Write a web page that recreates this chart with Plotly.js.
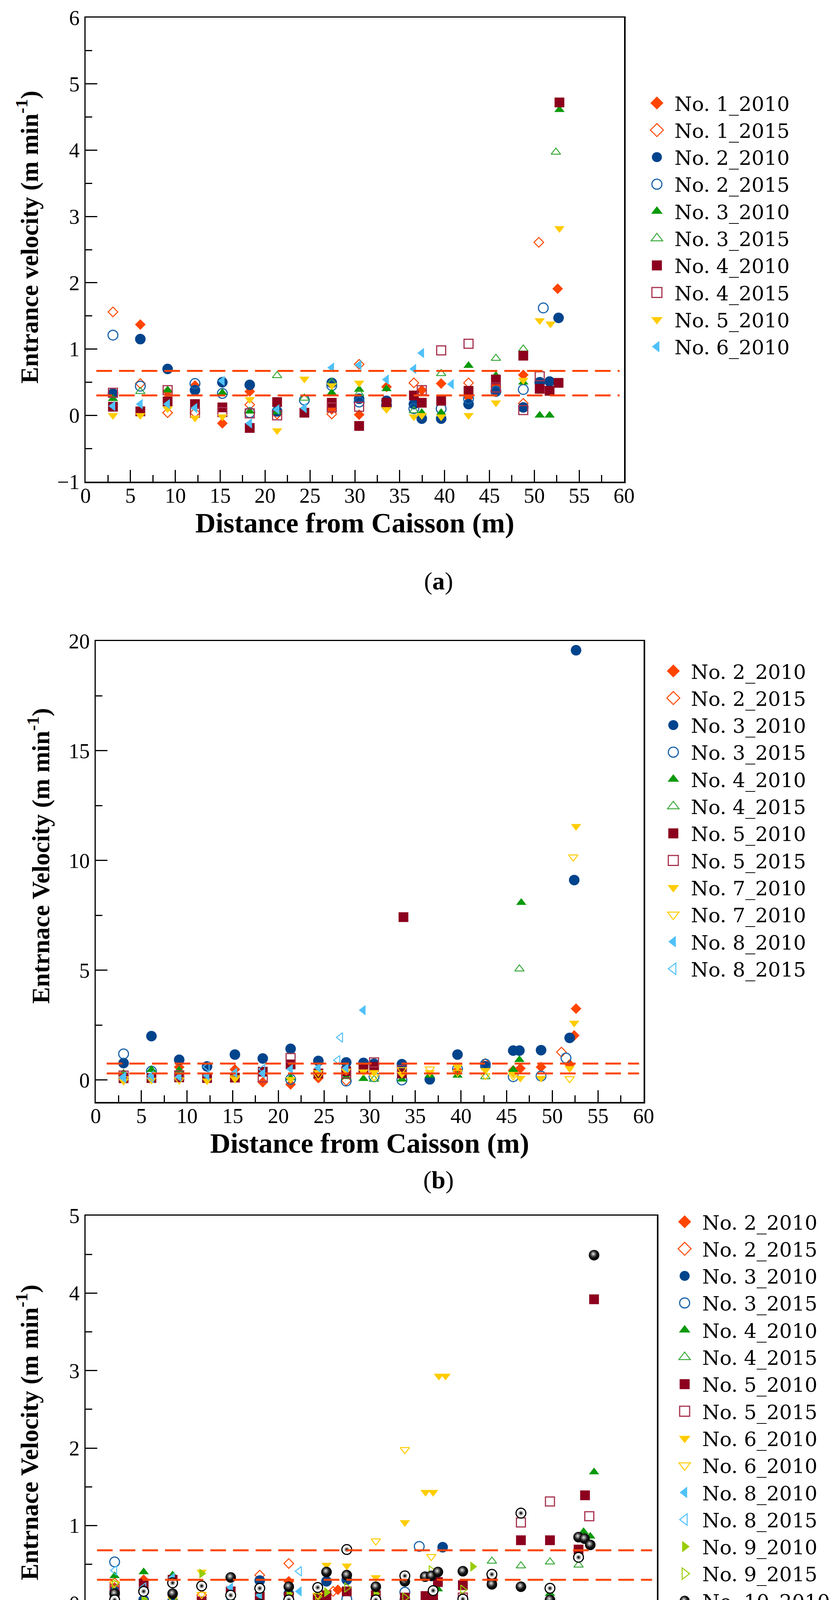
<!DOCTYPE html>
<html><head><meta charset="utf-8">
<script src="https://cdn.plot.ly/plotly-3.0.1.min.js"></script>
<style>html,body{margin:0;padding:0;background:#fff;overflow:hidden}#chart{width:2147px;height:4566px}</style>
</head><body><div id="chart"></div>
<script>
// ================= Panel (a) data =================
const a_n1_2010_x = [3.05, 6.1, 9.14, 12.19, 15.24, 18.29, 27.43, 30.48, 33.53, 37.46, 39.62, 42.67, 45.72, 48.77, 52.6];
const a_n1_2010_y = [0.30, 1.37, 0.36, 0.45, -0.12, 0.36, 0.09, 0.01, 0.43, 0.38, 0.48, 0.27, 0.44, 0.61, 1.91];
const a_n1_2015_x = [3.05, 6.1, 9.14, 12.19, 18.29, 21.34, 27.43, 30.48, 36.58, 42.67, 48.77, 50.5];
const a_n1_2015_y = [1.56, 0.48, 0.04, 0.04, 0.16, 0.02, 0.02, 0.77, 0.49, 0.49, 0.18, 2.61];
const a_n2_2010_x = [3.05, 6.1, 9.14, 12.19, 15.24, 18.29, 21.34, 27.43, 30.48, 33.53, 36.58, 37.46, 39.62, 42.67, 45.72, 48.77, 50.6, 51.7, 52.7];
const a_n2_2010_y = [0.33, 1.15, 0.70, 0.38, 0.50, 0.46, 0.06, 0.49, 0.25, 0.22, 0.17, -0.05, -0.05, 0.17, 0.37, 0.12, 0.50, 0.51, 1.47];
const a_n2_2015_x = [3.05, 6.1, 12.19, 15.24, 18.29, 24.38, 27.43, 30.48, 33.53, 36.58, 39.62, 42.67, 45.72, 48.77, 51.0];
const a_n2_2015_y = [1.21, 0.44, 0.48, 0.33, 0.04, 0.23, 0.45, 0.20, 0.15, 0.10, 0.10, 0.25, 0.36, 0.39, 1.62];
const a_n3_2010_x = [3.05, 9.14, 15.24, 18.29, 21.34, 27.43, 30.48, 33.53, 37.46, 39.62, 42.67, 45.72, 48.77, 50.6, 51.7, 52.8];
const a_n3_2010_y = [0.25, 0.38, 0.34, 0.06, 0.05, 0.34, 0.39, 0.40, 0.04, 0.04, 0.75, 0.60, 0.50, 0.0, 0.0, 4.61];
const a_n3_2015_x = [6.1, 21.34, 24.38, 27.43, 30.48, 36.58, 39.62, 45.72, 48.77, 52.4];
const a_n3_2015_y = [0.36, 0.60, 0.26, 0.50, 0.33, 0.07, 0.63, 0.86, 1.00, 3.97];
const a_n4_2010_x = [3.05, 6.1, 9.14, 12.19, 15.24, 18.29, 21.34, 24.38, 27.43, 30.48, 33.53, 36.58, 37.46, 39.62, 42.67, 45.72, 48.77, 50.6, 51.7, 52.7, 52.8];
const a_n4_2010_y = [0.13, 0.06, 0.21, 0.17, 0.12, -0.19, 0.20, 0.04, 0.19, -0.16, 0.19, 0.30, 0.19, 0.22, 0.37, 0.54, 0.90, 0.40, 0.37, 0.49, 4.72];
const a_n4_2015_x = [3.05, 9.14, 12.19, 15.24, 18.29, 21.34, 27.43, 30.48, 37.46, 39.62, 42.67, 45.72, 48.77, 50.6];
const a_n4_2015_y = [0.34, 0.38, 0.04, 0.05, 0.03, 0.0, 0.12, 0.13, 0.38, 0.98, 1.08, 0.42, 0.08, 0.59];
const a_n5_2010_x = [3.05, 6.1, 9.14, 12.19, 15.24, 18.29, 21.34, 24.38, 27.43, 30.48, 33.53, 36.58, 37.46, 39.62, 42.67, 45.72, 48.77, 50.6, 51.8, 52.8];
const a_n5_2010_y = [0.0, 0.0, 0.10, -0.04, -0.02, 0.24, -0.23, 0.55, 0.45, 0.49, 0.09, -0.02, 0.0, -0.02, 0.0, 0.19, 0.53, 1.43, 1.38, 2.82];
const a_n6_2010_x = [3.05, 6.1, 9.14, 12.19, 15.24, 18.29, 21.34, 24.38, 27.43, 30.48, 33.53, 36.58, 37.46, 40.77];
const a_n6_2010_y = [0.14, 0.17, 0.17, 0.11, 0.52, -0.12, 0.09, 0.11, 0.72, 0.76, 0.54, 0.70, 0.94, 0.47];
const a_limits = [0.67, 0.30];

// ================= Panel (b) data =================
const b_n2_2010_x = [3.05, 9.14, 15.24, 18.29, 21.34, 24.38, 39.62, 45.72, 46.5, 48.77, 51.9, 52.4, 52.6];
const b_n2_2010_y = [0.25, 0.59, 0.48, -0.10, -0.20, 0.09, 0.45, 0.44, 0.53, 0.59, 0.71, 2.03, 3.25];
const b_n2_2015_x = [3.05, 27.43, 42.67, 51.0];
const b_n2_2015_y = [0.20, -0.03, 0.75, 1.27];
const b_n3_2010_x = [3.05, 6.1, 9.14, 12.19, 15.24, 18.29, 21.34, 24.38, 27.43, 29.32, 30.48, 33.53, 36.58, 39.62, 42.67, 45.72, 46.4, 48.77, 51.9, 52.4, 52.6];
const b_n3_2010_y = [0.77, 2.00, 0.92, 0.62, 1.16, 0.98, 1.42, 0.87, 0.80, 0.78, 0.74, 0.72, 0.03, 1.16, 0.63, 1.34, 1.34, 1.36, 1.92, 9.11, 19.58];
const b_n3_2015_x = [3.05, 6.1, 21.34, 27.43, 30.48, 33.53, 39.62, 42.67, 45.72, 48.77, 51.5];
const b_n3_2015_y = [1.19, 0.40, 0.03, -0.05, 0.15, 0.0, 0.50, 0.72, 0.15, 0.18, 1.00];
const b_n4_2010_x = [3.05, 6.1, 9.14, 21.34, 27.43, 29.32, 33.53, 36.58, 39.62, 45.72, 46.4, 46.6];
const b_n4_2010_y = [0.30, 0.47, 0.45, 0.09, 0.15, 0.06, 0.03, 0.21, 0.21, 0.47, 0.92, 8.08];
const b_n4_2015_x = [3.05, 30.48, 42.67, 46.4];
const b_n4_2015_y = [0.20, 0.03, 0.15, 5.06];
const b_n5_2010_x = [3.05, 6.1, 9.14, 12.19, 15.24, 18.29, 21.34, 24.38, 27.43, 29.32, 30.48, 33.53, 33.7];
const b_n5_2010_y = [0.08, 0.09, 0.12, 0.09, 0.11, 0.38, 0.71, 0.30, 0.40, 0.55, 0.60, 0.30, 7.42];
const b_n5_2015_x = [3.05, 9.14, 18.29, 21.34, 27.43, 30.48, 33.53];
const b_n5_2015_y = [0.20, 0.21, 0.12, 1.00, 0.30, 0.80, 0.45];
const b_n7_2010_x = [3.05, 6.1, 12.19, 15.24, 21.34, 24.38, 27.43, 29.32, 30.48, 33.53, 36.58, 39.62, 42.67, 45.72, 46.5, 48.77, 51.9, 52.4, 52.6];
const b_n7_2010_y = [-0.05, 0.0, -0.03, 0.05, 0.03, 0.35, 0.41, 0.38, 0.35, 0.27, 0.35, 0.60, 0.44, 0.27, 0.09, 0.09, 0.53, 2.60, 11.56];
const b_n7_2010b_x = [3.05, 9.14, 15.24, 24.38, 30.48, 33.53, 36.58, 39.62, 42.67, 45.72, 51.9, 52.3];
const b_n7_2010b_y = [0.05, 0.0, 0.10, 0.20, 0.15, 0.47, 0.50, 0.35, 0.20, 0.18, 0.06, 10.16];
const b_n8_2010_x = [3.05, 6.1, 9.14, 12.19, 15.24, 18.29, 21.34, 24.38, 27.43, 29.3];
const b_n8_2010_y = [0.15, 0.20, 0.15, 0.20, 0.33, 0.30, 0.50, 0.56, 0.54, 3.18];
const b_n8_2015_x = [3.05, 6.1, 12.19, 18.29, 26.5, 26.8];
const b_n8_2015_y = [0.10, 0.10, 0.60, 0.50, 0.90, 1.94];
const b_limits = [0.75, 0.30];

// ================= Panel (c) data =================
const c_n2_2010_x = [3.05, 6.1, 9.14, 15.24, 21.34, 26.5];
const c_n2_2010_y = [0.20, 0.30, 0.04, 0.12, 0.28, 0.17];
const c_n2_2015_x = [3.05, 12.19, 18.29, 21.34, 26.0];
const c_n2_2015_y = [0.26, 0.10, 0.36, 0.51, 0.15];
const c_n3_2010_x = [3.05, 6.1, 9.14, 12.19, 15.24, 18.29, 21.34, 25.3, 27.43, 33.53, 37.5];
const c_n3_2010_y = [0.15, 0.04, 0.02, -0.06, 0.0, 0.29, 0.12, 0.28, 0.30, 0.04, 0.72];
const c_n3_2015_x = [3.05, 9.14, 27.43, 33.53, 35.04];
const c_n3_2015_y = [0.53, 0.02, 0.05, 0.14, 0.73];
const c_n4_2010_x = [3.05, 6.1, 9.14, 21.34, 24.38, 30.48, 35.7, 36.5, 37.0, 48.77, 52.3, 53.0, 53.4];
const c_n4_2010_y = [0.35, 0.40, 0.36, 0.02, 0.03, 0.0, 0.0, 0.0, 0.18, 0.12, 0.92, 0.86, 1.69];
const c_n4_2015_x = [15.24, 42.67, 45.72, 48.77, 51.77];
const c_n4_2015_y = [0.02, 0.54, 0.48, 0.53, 0.49];
const c_n5_2010_x = [3.05, 6.1, 9.14, 12.19, 15.24, 18.29, 21.34, 24.38, 25.3, 27.43, 30.48, 33.53, 35.7, 36.5, 37.0, 39.62, 42.67, 45.72, 48.77, 51.77, 52.45, 53.4];
const c_n5_2010_y = [0.11, 0.25, 0.30, 0.02, 0.15, 0.08, 0.08, 0.06, 0.10, 0.15, 0.10, 0.07, 0.09, 0.08, 0.27, 0.23, 0.27, 0.81, 0.81, 0.69, 1.39, 3.92];
const c_n5_2015_x = [3.05, 39.62, 45.72, 48.77, 52.9];
const c_n5_2015_y = [0.18, 0.07, 1.04, 1.31, 1.12];
const c_n6_2010_x = [3.05, 12.19, 15.24, 25.3, 27.43, 30.48, 33.53, 35.7, 36.5, 37.1, 37.8];
const c_n6_2010_y = [-0.02, 0.40, -0.19, 0.49, 0.48, 0.33, 1.04, 1.43, 1.43, 2.93, 2.93];
const c_n6_2010b_x = [3.05, 9.14, 12.19, 24.38, 30.48, 33.53, 36.3];
const c_n6_2010b_y = [0.25, 0.05, 0.11, 0.10, 0.80, 1.98, 0.60];
const c_n8_2010_x = [9.14, 15.24, 18.29, 22.45];
const c_n8_2010_y = [0.33, 0.20, 0.10, 0.15];
const c_n8_2015_x = [3.05, 6.1, 15.24, 22.45];
const c_n8_2015_y = [0.42, 0.20, 0.05, 0.41];
const c_n9_2010_x = [6.1, 12.19, 18.29, 21.34, 25.3, 30.48, 40.65];
const c_n9_2010_y = [0.05, 0.38, -0.10, 0.12, 0.14, 0.12, 0.47];
const c_n9_2015_x = [3.05, 9.14, 24.38, 27.43, 33.53, 36.3, 39.62];
const c_n9_2015_y = [0.25, 0.05, 0.08, 0.20, 0.07, 0.42, 0.17];
const c_n10_2010_x = [3.05, 6.1, 9.14, 15.24, 18.29, 21.34, 25.3, 27.43, 30.48, 33.53, 35.66, 36.3, 37.0, 39.62, 42.67, 45.72, 48.77, 51.77, 52.4, 53.0, 53.4];
const c_n10_2010_y = [0.12, -0.05, 0.12, 0.33, -0.01, 0.21, 0.40, 0.36, 0.21, 0.28, 0.34, 0.35, 0.40, 0.41, 0.24, 0.21, 0.04, 0.85, 0.83, 0.75, 4.49];
const c_n10_2015_x = [3.05, 6.1, 9.14, 12.19, 15.24, 18.29, 21.34, 24.38, 27.43, 30.48, 33.53, 36.5, 39.62, 42.67, 45.72, 48.77, 51.77];
const c_n10_2015_y = [0.04, 0.15, 0.26, 0.22, 0.10, 0.19, 0.04, 0.20, 0.69, 0.04, 0.35, 0.16, 0.05, 0.37, 1.16, 0.19, 0.59];
const c_limits = [0.68, 0.30];

const x_range = [0, 60];
const a_y_range = [-1, 6];
const b_y_range = [-1, 20];
const c_y_range = [-1, 5];
const limit_x = [1.2, 59.5];

// ================= styles =================
const ORANGE = '#FF4500', NAVY = '#00448C', BLUE_O = '#1a64aa', GREEN = '#0A9A0A', GREEN_O = '#3CAA3C',
      DRED = '#8C001E', DRED_O = '#A8344F', YEL = '#FFCC00', LBLUE = '#4FC1F9', YG = '#99CC00';
const ST = {
  dia:   {symbol:'diamond', color:ORANGE, size:21},
  diaO:  {symbol:'diamond-open', color:ORANGE, size:19, line:{color:ORANGE, width:2.5}},
  cir:   {symbol:'circle', color:NAVY, size:27},
  cirO:  {symbol:'circle-open', color:BLUE_O, size:25, line:{color:BLUE_O, width:3}},
  tup:   {symbol:'triangle-up', color:GREEN, size:23},
  tupO:  {symbol:'triangle-up-open', color:GREEN_O, size:21, line:{color:GREEN_O, width:2.5}},
  sq:    {symbol:'square', color:DRED, size:25},
  sqO:   {symbol:'square-open', color:DRED_O, size:23, line:{color:DRED_O, width:3}},
  tdn:   {symbol:'triangle-down', color:YEL, size:23},
  tdnO:  {symbol:'triangle-down-open', color:YEL, size:21, line:{color:YEL, width:2.5}},
  tlf:   {symbol:'triangle-left', color:LBLUE, size:23},
  tlfO:  {symbol:'triangle-left-open', color:LBLUE, size:21, line:{color:LBLUE, width:2.5}},
  trt:   {symbol:'triangle-right', color:YG, size:23},
  trtO:  {symbol:'triangle-right-open', color:YG, size:21, line:{color:YG, width:2.5}},
  sph:   {symbol:'circle', color:'#000000', size:27, line:{width:0}, gradient:{type:'radial', color:'#f4f4f4'}},
  dot:   {symbol:'circle', color:'#ffffff', size:25, line:{color:'#000000', width:3}, gradient:{type:'radial', color:'#000000'}}
};

function pts(name, x, y, st, ax, lg) {
  const m = Object.assign({}, st);
  if (!m.line) m.line = {width:0};
  return {type:'scatter', mode:'markers', name:name, x:x, y:y, marker:m,
          xaxis:'x'+ax, yaxis:'y'+ax, legend:lg, cliponaxis:false, hoverinfo:'skip'};
}
function lim(vals, ax) {
  return vals.map(v => ({type:'scatter', mode:'lines', x:limit_x, y:[v, v], showlegend:false,
    line:{color:ORANGE, width:5, dash:'40px,18px'}, xaxis:'x'+ax, yaxis:'y'+ax, hoverinfo:'skip'}));
}

const traces = [
  pts('No. 1_2010', a_n1_2010_x, a_n1_2010_y, ST.dia, '', 'legend'),
  pts('No. 1_2015', a_n1_2015_x, a_n1_2015_y, ST.diaO, '', 'legend'),
  pts('No. 2_2010', a_n2_2010_x, a_n2_2010_y, ST.cir, '', 'legend'),
  pts('No. 2_2015', a_n2_2015_x, a_n2_2015_y, ST.cirO, '', 'legend'),
  pts('No. 3_2010', a_n3_2010_x, a_n3_2010_y, ST.tup, '', 'legend'),
  pts('No. 3_2015', a_n3_2015_x, a_n3_2015_y, ST.tupO, '', 'legend'),
  pts('No. 4_2010', a_n4_2010_x, a_n4_2010_y, ST.sq, '', 'legend'),
  pts('No. 4_2015', a_n4_2015_x, a_n4_2015_y, ST.sqO, '', 'legend'),
  pts('No. 5_2010', a_n5_2010_x, a_n5_2010_y, ST.tdn, '', 'legend'),
  pts('No. 6_2010', a_n6_2010_x, a_n6_2010_y, ST.tlf, '', 'legend'),
  ...lim(a_limits, ''),

  pts('No. 2_2010', b_n2_2010_x, b_n2_2010_y, ST.dia, '2', 'legend2'),
  pts('No. 2_2015', b_n2_2015_x, b_n2_2015_y, ST.diaO, '2', 'legend2'),
  pts('No. 3_2010', b_n3_2010_x, b_n3_2010_y, ST.cir, '2', 'legend2'),
  pts('No. 3_2015', b_n3_2015_x, b_n3_2015_y, ST.cirO, '2', 'legend2'),
  pts('No. 4_2010', b_n4_2010_x, b_n4_2010_y, ST.tup, '2', 'legend2'),
  pts('No. 4_2015', b_n4_2015_x, b_n4_2015_y, ST.tupO, '2', 'legend2'),
  pts('No. 5_2010', b_n5_2010_x, b_n5_2010_y, ST.sq, '2', 'legend2'),
  pts('No. 5_2015', b_n5_2015_x, b_n5_2015_y, ST.sqO, '2', 'legend2'),
  pts('No. 7_2010', b_n7_2010_x, b_n7_2010_y, ST.tdn, '2', 'legend2'),
  pts('No. 7_2010', b_n7_2010b_x, b_n7_2010b_y, ST.tdnO, '2', 'legend2'),
  pts('No. 8_2010', b_n8_2010_x, b_n8_2010_y, ST.tlf, '2', 'legend2'),
  pts('No. 8_2015', b_n8_2015_x, b_n8_2015_y, ST.tlfO, '2', 'legend2'),
  ...lim(b_limits, '2'),

  pts('No. 2_2010', c_n2_2010_x, c_n2_2010_y, ST.dia, '3', 'legend3'),
  pts('No. 2_2015', c_n2_2015_x, c_n2_2015_y, ST.diaO, '3', 'legend3'),
  pts('No. 3_2010', c_n3_2010_x, c_n3_2010_y, ST.cir, '3', 'legend3'),
  pts('No. 3_2015', c_n3_2015_x, c_n3_2015_y, ST.cirO, '3', 'legend3'),
  pts('No. 4_2010', c_n4_2010_x, c_n4_2010_y, ST.tup, '3', 'legend3'),
  pts('No. 4_2015', c_n4_2015_x, c_n4_2015_y, ST.tupO, '3', 'legend3'),
  pts('No. 5_2010', c_n5_2010_x, c_n5_2010_y, ST.sq, '3', 'legend3'),
  pts('No. 5_2015', c_n5_2015_x, c_n5_2015_y, ST.sqO, '3', 'legend3'),
  pts('No. 6_2010', c_n6_2010_x, c_n6_2010_y, ST.tdn, '3', 'legend3'),
  pts('No. 6_2010', c_n6_2010b_x, c_n6_2010b_y, ST.tdnO, '3', 'legend3'),
  pts('No. 8_2010', c_n8_2010_x, c_n8_2010_y, ST.tlf, '3', 'legend3'),
  pts('No. 8_2015', c_n8_2015_x, c_n8_2015_y, ST.tlfO, '3', 'legend3'),
  pts('No. 9_2010', c_n9_2010_x, c_n9_2010_y, ST.trt, '3', 'legend3'),
  pts('No. 9_2015', c_n9_2015_x, c_n9_2015_y, ST.trtO, '3', 'legend3'),
  pts('No. 10_2010', c_n10_2010_x, c_n10_2010_y, ST.sph, '3', 'legend3'),
  pts('No. 10_2015', c_n10_2015_x, c_n10_2015_y, ST.dot, '3', 'legend3'),
  ...lim(c_limits, '3')
];

const W = 2147, H = 4566;
const TICKFONT = {family:'Liberation Serif', size:54, color:'#000'};
const TITLEFONT_X = {family:'Liberation Serif', size:72, color:'#000'};
const TITLEFONT_Y = {family:'Liberation Serif', size:64, color:'#000'};
function xax(px0, px1, anchor) {
  return {domain:[px0/W, px1/W], anchor:anchor, range:x_range, dtick:5, tick0:0,
    showline:true, mirror:true, linecolor:'#000', linewidth:3.5, ticks:'inside', ticklen:30, tickwidth:3, tickcolor:'#000',
    minor:{dtick:2.5, ticks:'inside', ticklen:17, tickwidth:3, tickcolor:'#000', showgrid:false},
    showgrid:false, zeroline:false, tickfont:TICKFONT, ticklabelstandoff:-14,
    title:{text:'<b>Distance from Caisson (m)</b>', font:TITLEFONT_X, standoff:14}};
}
function yax(py0, py1, anchor, range, dt, mdt, title) {
  return {domain:[1-py1/H, 1-py0/H], anchor:anchor, range:range, dtick:dt, tick0:0,
    showline:true, mirror:true, linecolor:'#000', linewidth:3.5, ticks:'inside', ticklen:30, tickwidth:3, tickcolor:'#000',
    minor:{dtick:mdt, ticks:'inside', ticklen:17, tickwidth:3, tickcolor:'#000', showgrid:false},
    showgrid:false, zeroline:false, tickfont:TICKFONT, ticklabelstandoff:1,
    title:{text:title, font:TITLEFONT_Y, standoff:29}};
}
const ITEMW = 80;
function leg(symx, topy) {
  return {x:(symx-45)/W, y:1-topy/H, xanchor:'left', yanchor:'top', bgcolor:'rgba(0,0,0,0)', itemwidth:ITEMW,
    font:{family:'DejaVu Serif', size:51, color:'#000'}, itemsizing:'trace', tracegroupgap:0, traceorder:'normal'};
}
const PANELFONT = {family:'Liberation Serif', size:64, color:'#000'};
const PAD4 = '&nbsp;&nbsp;&nbsp;&nbsp;', PAD5 = '&nbsp;&nbsp;&nbsp;&nbsp;&nbsp;';

const layout = {
  width:W, height:H, autosize:false, margin:{l:0, r:0, t:0, b:0},
  paper_bgcolor:'#fff', plot_bgcolor:'#fff', showlegend:true,
  xaxis:  xax(219, 1597, 'y'),
  yaxis:  yax(45, 1233, 'x', a_y_range, 1, 0.5, PAD4 + '<b>Entrance velocity (m min<sup>-1</sup>)</b>'),
  xaxis2: xax(245, 1647, 'y2'),
  yaxis2: yax(1641, 2821, 'x2', b_y_range, 5, 2.5, PAD5 + '<b>Entrnace Velocity (m min<sup>-1</sup>)</b>'),
  xaxis3: xax(219, 1681, 'y3'),
  yaxis3: yax(3112, 4302, 'x3', c_y_range, 1, 0.5, PAD5 + '<b>Entrnace Velocity (m min<sup>-1</sup>)</b>'),
  legend:  leg(1681, 224),
  legend2: leg(1723, 1678),
  legend3: leg(1752, 3088),
  annotations:[
    {text:'(<b>a</b>)', x:1122/W, y:1-1487/H, xref:'paper', yref:'paper', xanchor:'center', yanchor:'middle', showarrow:false, font:PANELFONT},
    {text:'(<b>b</b>)', x:1122/W, y:1-3020/H, xref:'paper', yref:'paper', xanchor:'center', yanchor:'middle', showarrow:false, font:PANELFONT},
    {text:'(<b>c</b>)', x:1122/W, y:1-4499/H, xref:'paper', yref:'paper', xanchor:'center', yanchor:'middle', showarrow:false, font:PANELFONT}
  ]
};

function rgbOf(s) {
  const m = (s || '').match(/[\d.]+/g);
  return m ? m.slice(0, 3).map(Number) : [0, 0, 0];
}
function setStops(g, stops) {
  while (g.firstChild) g.removeChild(g.firstChild);
  stops.forEach(([off, col]) => {
    const st = document.createElementNS('http://www.w3.org/2000/svg', 'stop');
    st.setAttribute('offset', off);
    st.setAttribute('stop-color', col);
    st.setAttribute('stop-opacity', '1');
    g.appendChild(st);
  });
}
function polish(gd) {
  // larger legend symbols, like the reference
  gd.querySelectorAll('.legendpoints path.scatterpts').forEach(p => {
    const t = p.getAttribute('transform') || '';
    p.setAttribute('transform', t + ' scale(1.6)');
    p.style.vectorEffect = 'non-scaling-stroke';
  });
  // shaded spheres for No. 10 markers
  gd.querySelectorAll('radialGradient').forEach(g => {
    const stops = Array.from(g.querySelectorAll('stop'));
    if (stops.length < 2) return;
    const cols = stops.map(s => rgbOf(getComputedStyle(s).stopColor || s.getAttribute('stop-color')));
    const has = v => cols.some(c => Math.abs(c[0] - v) < 3 && Math.abs(c[1] - v) < 3 && Math.abs(c[2] - v) < 3);
    if (has(244) && has(0)) {
      setStops(g, [['0%', '#f2f2f2'], ['18%', '#a0a0a0'], ['55%', '#151515'], ['100%', '#000000']]);
      g.setAttribute('cx', '0.45'); g.setAttribute('cy', '0.42'); g.setAttribute('fx', '0.42'); g.setAttribute('fy', '0.38'); g.setAttribute('r', '0.6');
    } else if (has(255) && has(0)) {
      setStops(g, [['0%', '#000000'], ['14%', '#202020'], ['40%', '#b8b8b8'], ['62%', '#ffffff'], ['100%', '#ffffff']]);
    }
  });
}

Plotly.newPlot('chart', traces, layout, {displayModeBar:false, staticPlot:true}).then(polish);
</script>
</body></html>
